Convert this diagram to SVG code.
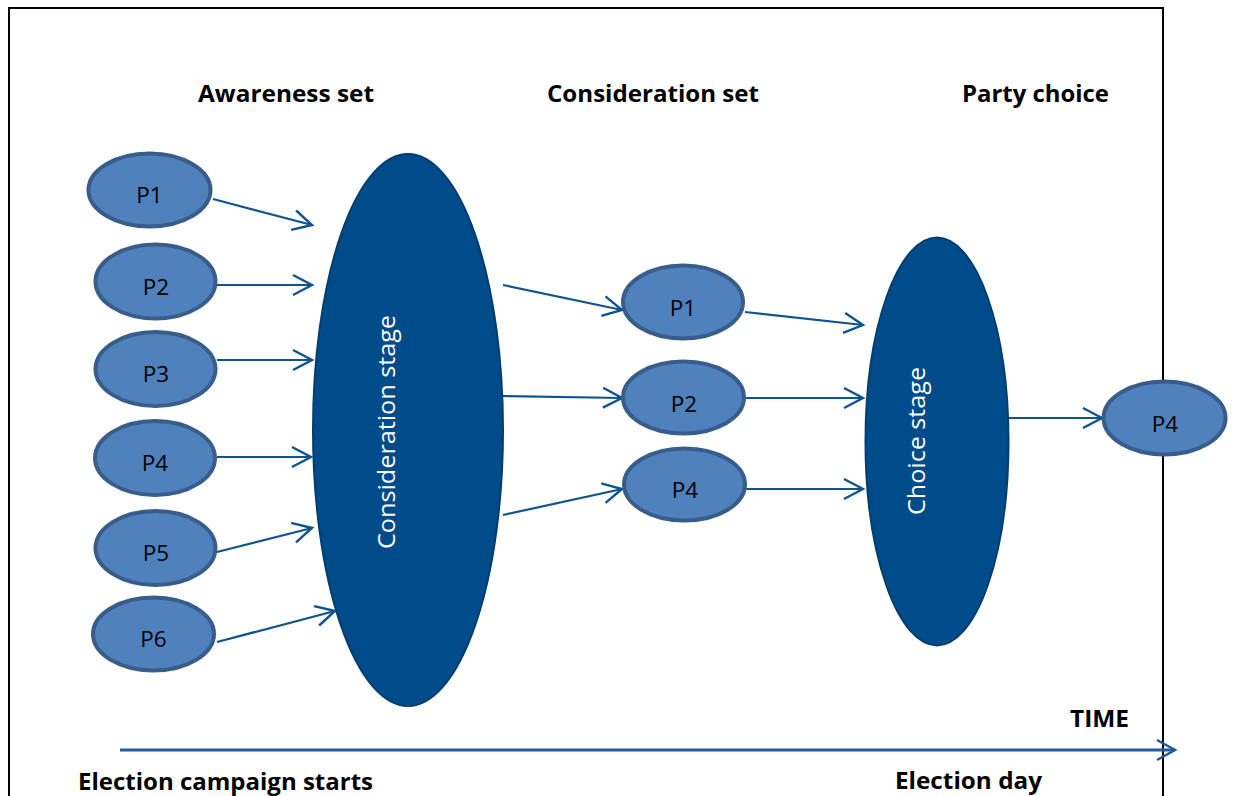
<svg xmlns="http://www.w3.org/2000/svg" width="1233" height="796" viewBox="0 0 1233 796">
  <style>
    .party { fill: #4F81BD; stroke: #385D8A; stroke-width: 4; }
    .stage { fill: #004C8A; stroke: #003D70; stroke-width: 2; }
    .plabel { font-family: "Open Sans", "Liberation Sans", sans-serif; font-size: 22.5px; fill: #000; text-anchor: middle; }
    .slabel { font-family: "Open Sans", "Liberation Sans", sans-serif; font-size: 24px; fill: #fff; text-anchor: middle; }
    .head { font-family: "Open Sans", "Liberation Sans", sans-serif; font-size: 24px; font-weight: bold; fill: #000; }
    .link { stroke: #0F5391; stroke-width: 2.2; fill: none; marker-end: url(#open); }
    .time { stroke: #1F5C99; stroke-width: 3; fill: none; marker-end: url(#openT); }
  </style>
  <defs>
    <marker id="open" markerUnits="userSpaceOnUse" markerWidth="24" markerHeight="24" viewBox="-21 -12 24 24" refX="0" refY="0" orient="auto" overflow="visible">
      <path d="M -19 -10 L 0 0 L -19 10" fill="none" stroke="#0F5391" stroke-width="2.4"/>
    </marker>
    <marker id="openT" markerUnits="userSpaceOnUse" markerWidth="24" markerHeight="24" viewBox="-21 -12 24 24" refX="0" refY="0" orient="auto" overflow="visible">
      <path d="M -18 -10 L 0 0 L -18 10" fill="none" stroke="#1F5C99" stroke-width="2.5"/>
    </marker>
  </defs>

  <rect width="1233" height="796" fill="#fff"/>
  <!-- frame -->
  <path d="M 9 800 L 9 8 L 1163 8 L 1163 800" fill="none" stroke="#000" stroke-width="2"/>

  <!-- column headings -->
  <text class="head" x="198" y="102" textLength="176" lengthAdjust="spacingAndGlyphs">Awareness set</text>
  <text class="head" x="547" y="102" textLength="212" lengthAdjust="spacingAndGlyphs">Consideration set</text>
  <text class="head" x="962" y="102" textLength="147" lengthAdjust="spacingAndGlyphs">Party choice</text>

  <!-- connectors -->
  <g id="connectors">
    <line class="link" x1="213" y1="199" x2="312" y2="225"/>
    <line class="link" x1="217" y1="285" x2="312" y2="285"/>
    <line class="link" x1="217" y1="360" x2="312" y2="360"/>
    <line class="link" x1="217" y1="457" x2="311" y2="457"/>
    <line class="link" x1="217" y1="552" x2="312" y2="528"/>
    <line class="link" x1="217" y1="642" x2="335" y2="611"/>
    <line class="link" x1="503" y1="285" x2="622" y2="310"/>
    <line class="link" x1="503" y1="396" x2="622" y2="398"/>
    <line class="link" x1="503" y1="515" x2="622" y2="489"/>
    <line class="link" x1="745" y1="312" x2="863" y2="325"/>
    <line class="link" x1="746" y1="398" x2="863" y2="398"/>
    <line class="link" x1="746" y1="489" x2="863" y2="489"/>
    <line class="link" x1="1009" y1="418" x2="1102" y2="418"/>
    <line class="time" x1="120" y1="750" x2="1175" y2="750"/>
  </g>

  <!-- awareness set -->
  <g id="a-p1"><ellipse class="party" cx="149.5" cy="190" rx="61" ry="36.5"/><text class="plabel" x="149.5" y="203">P1</text></g>
  <g id="a-p2"><ellipse class="party" cx="155.5" cy="281.5" rx="60" ry="37"/><text class="plabel" x="156" y="295">P2</text></g>
  <g id="a-p3"><ellipse class="party" cx="155.5" cy="369" rx="60" ry="37"/><text class="plabel" x="156" y="382">P3</text></g>
  <g id="a-p4"><ellipse class="party" cx="155" cy="458" rx="60" ry="37"/><text class="plabel" x="155" y="471">P4</text></g>
  <g id="a-p5"><ellipse class="party" cx="155.5" cy="548" rx="60" ry="37"/><text class="plabel" x="156" y="561">P5</text></g>
  <g id="a-p6"><ellipse class="party" cx="153.5" cy="634" rx="60.5" ry="36.5"/><text class="plabel" x="153.5" y="647">P6</text></g>

  <!-- consideration stage -->
  <g id="consideration-stage">
    <ellipse class="stage" cx="408" cy="430" rx="95" ry="276"/>
    <text class="slabel" transform="translate(395 432) rotate(-90)" x="0" y="0" textLength="234" lengthAdjust="spacingAndGlyphs">Consideration stage</text>
  </g>

  <!-- consideration set -->
  <g id="c-p1"><ellipse class="party" cx="683" cy="302" rx="60" ry="36.5"/><text class="plabel" x="683" y="316">P1</text></g>
  <g id="c-p2"><ellipse class="party" cx="683.5" cy="397.5" rx="60.5" ry="36"/><text class="plabel" x="684" y="412">P2</text></g>
  <g id="c-p4"><ellipse class="party" cx="684.5" cy="484.5" rx="60.5" ry="36"/><text class="plabel" x="685" y="498">P4</text></g>

  <!-- choice stage -->
  <g id="choice-stage">
    <ellipse class="stage" cx="937" cy="441.5" rx="71.5" ry="204"/>
    <text class="slabel" transform="translate(925 441) rotate(-90)" x="0" y="0" textLength="148" lengthAdjust="spacingAndGlyphs">Choice stage</text>
  </g>

  <!-- party choice -->
  <g id="choice-p4"><ellipse class="party" cx="1164.5" cy="418" rx="61" ry="36.5"/><text class="plabel" x="1165" y="432">P4</text></g>

  <!-- time axis labels -->
  <text class="head" x="1070" y="727" textLength="59" lengthAdjust="spacingAndGlyphs">TIME</text>
  <text class="head" x="78" y="790" textLength="295" lengthAdjust="spacingAndGlyphs">Election campaign starts</text>
  <text class="head" x="895" y="789" textLength="147" lengthAdjust="spacingAndGlyphs">Election day</text>
</svg>
